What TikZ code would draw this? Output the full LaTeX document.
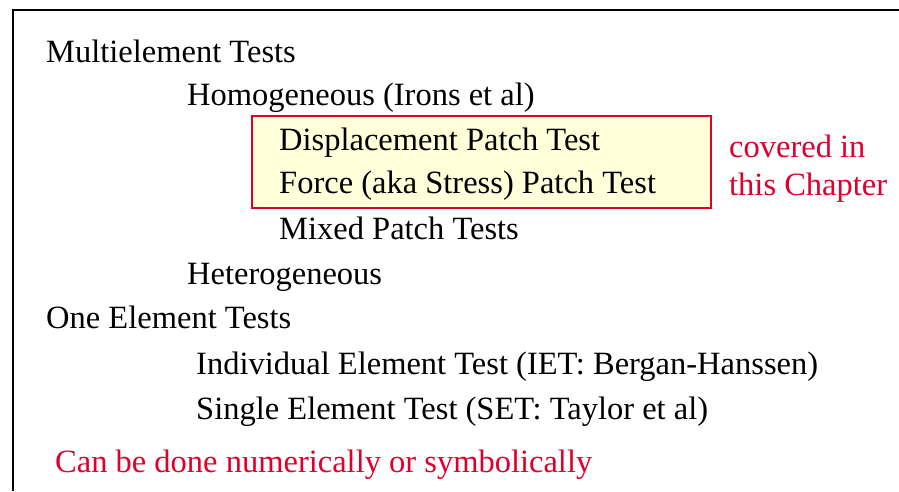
\documentclass[tikz,border=0pt]{standalone}
\usepackage{fontspec}
\setmainfont{Liberation Serif}
\usetikzlibrary{positioning}
\definecolor{chapred}{RGB}{222,0,42}
\definecolor{paleyellow}{RGB}{255,255,218}

\begin{document}
\begin{tikzpicture}[x=1pt, y=-1pt,
		every node/.style={inner sep=0pt, anchor=base west, font=\fontsize{32.5}{39}\selectfont},
		note/.style={text=chapred}]
	\useasboundingbox (0,0) rectangle (899,491);
	% cornice
	\draw[line width=2pt] (12.5,491) -- (12.5,9.5) -- (899,9.5);
	% riquadro evidenziato
	\draw[chapred, line width=2pt, fill=paleyellow] (252,116) rectangle (711,208);
	
	% Multielemento
	\node (multi) at (46,62) {Multielement Tests};
	\node (homog) at (187,105) {Homogeneous (Irons et al)};
	\node (disp) at (279,150) {Displacement Patch Test};
	\node[below=43pt of disp.base west, anchor=base west] (force) {Force (aka Stress) Patch Test};
	\node[below=46pt of force.base west, anchor=base west] (mixed) {Mixed Patch Tests};
	\node (heter) at (187,284) {Heterogeneous};
	\node[note] (covered) at (729,157) {covered in};
	\node[note, below=38pt of covered.base west, anchor=base west] (chapter) {this Chapter};
	
	% Elemento singolo
	\node (oneel) at (46,328) {One Element Tests};
	\node (iet) at (196,374) {Individual Element Test (IET: Bergan-Hanssen)};
	\node[below=45pt of iet.base west, anchor=base west] (set) {Single Element Test (SET: Taylor et al)};
	\node[note] (numsym) at (55,472) {Can be done numerically or symbolically};
\end{tikzpicture}
\end{document}
